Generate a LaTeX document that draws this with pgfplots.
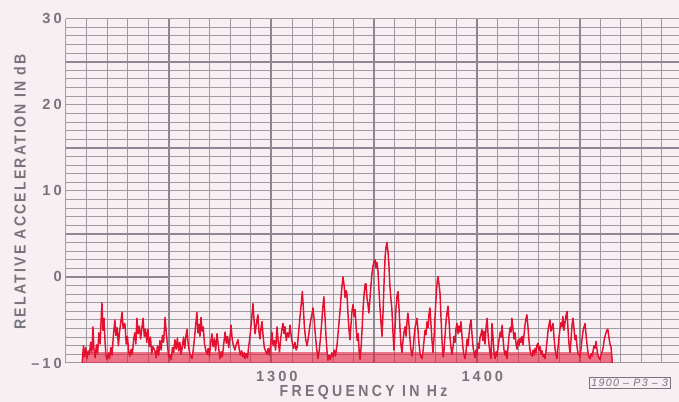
\documentclass[border=0pt]{standalone}
\usepackage{fontspec}
\usepackage{pgfplots}
\usepackage{pgfplotstable}
\pgfplotsset{compat=1.18}
\setmainfont{Liberation Sans}
\newfontfamily\lett[FakeStretch=0.88,LetterSpace=14]{Liberation Sans}
\newfontfamily\lettx[FakeStretch=0.88,LetterSpace=21]{Liberation Sans}
\newfontfamily\digs[LetterSpace=20]{Liberation Sans}
\newfontfamily\stamp[LetterSpace=12]{Liberation Sans}

\definecolor{paper}{RGB}{248,239,243}
\definecolor{gridc}{RGB}{158,154,164}
\definecolor{gridd}{RGB}{140,136,146}
\definecolor{tgray}{RGB}{118,116,124}
\definecolor{trace}{RGB}{228,16,48}

% spectrum trace (Hz, dB)
\pgfplotstableread[row sep=\\]{
f db\\
1208.0 -10.0\\ 1208.0 -9.6\\ 1208.5 -8.0\\ 1209.0 -9.3\\ 1209.6 -8.2\\ 1210.2 -9.5\\ 1210.8 -8.6\\ 1211.4 -9.0\\ 1212.0 -7.6\\ 1212.6 -8.8\\
1213.1 -5.8\\ 1213.6 -8.4\\ 1214.2 -9.4\\ 1214.8 -7.9\\ 1215.4 -8.9\\ 1216.0 -6.5\\ 1216.6 -7.8\\ 1217.0 -5.5\\ 1217.5 -3.0\\ 1218.0 -6.2\\
1218.5 -4.8\\ 1219.0 -7.5\\ 1219.5 -9.2\\ 1220.0 -9.6\\ 1220.6 -8.8\\ 1221.2 -9.5\\ 1221.8 -8.2\\ 1222.4 -9.1\\ 1223.0 -7.0\\ 1223.8 -5.0\\
1224.3 -6.8\\ 1224.9 -5.9\\ 1225.5 -8.0\\ 1226.1 -6.3\\ 1226.7 -5.2\\ 1227.3 -4.1\\ 1227.8 -6.0\\ 1228.3 -5.4\\ 1228.7 -5.5\\ 1229.3 -7.8\\
1229.9 -6.9\\ 1230.5 -8.7\\ 1231.1 -9.2\\ 1231.7 -8.4\\ 1232.3 -9.0\\ 1232.9 -7.3\\ 1233.5 -6.5\\ 1234.0 -7.8\\ 1234.5 -4.8\\ 1235.1 -6.6\\
1235.7 -5.7\\ 1236.3 -7.2\\ 1236.9 -6.0\\ 1237.5 -4.8\\ 1238.1 -6.9\\ 1238.7 -6.1\\ 1239.3 -7.6\\ 1239.9 -6.1\\ 1240.5 -8.1\\ 1241.1 -7.0\\
1241.7 -8.9\\ 1242.3 -8.1\\ 1243.3 -8.6\\ 1243.9 -9.4\\ 1244.5 -8.0\\ 1245.1 -9.1\\ 1245.7 -7.4\\ 1246.3 -8.5\\ 1246.9 -6.8\\ 1247.5 -7.6\\
1248.2 -4.7\\ 1248.8 -6.5\\ 1249.4 -8.0\\ 1250.0 -9.3\\ 1250.6 -9.0\\ 1251.2 -9.6\\ 1251.8 -8.2\\ 1252.4 -8.8\\ 1253.0 -7.3\\ 1253.6 -8.4\\
1254.2 -7.1\\ 1254.8 -8.6\\ 1255.4 -7.6\\ 1256.0 -9.0\\ 1256.6 -8.1\\ 1257.2 -7.0\\ 1257.8 -8.3\\ 1258.4 -6.8\\ 1258.9 -6.1\\ 1259.5 -7.9\\
1260.1 -8.7\\ 1260.7 -9.2\\ 1261.3 -9.5\\ 1261.9 -8.5\\ 1262.5 -7.2\\ 1263.1 -5.6\\ 1263.7 -4.1\\ 1264.2 -6.5\\ 1264.7 -5.5\\ 1265.2 -6.9\\
1265.7 -4.7\\ 1266.2 -6.3\\ 1266.8 -5.8\\ 1267.4 -7.8\\ 1268.0 -8.5\\ 1268.6 -9.0\\ 1269.2 -8.3\\ 1269.8 -9.2\\ 1270.4 -7.7\\ 1271.0 -6.6\\
1271.6 -8.1\\ 1272.2 -7.2\\ 1272.8 -8.6\\ 1273.5 -6.6\\ 1274.1 -7.9\\ 1274.9 -9.5\\ 1275.5 -8.7\\ 1276.1 -9.3\\ 1276.7 -7.9\\ 1277.4 -6.4\\
1278.0 -7.7\\ 1278.6 -6.9\\ 1279.2 -8.2\\ 1279.8 -7.0\\ 1280.3 -5.6\\ 1280.9 -7.3\\ 1281.5 -8.0\\ 1282.2 -8.5\\ 1282.8 -7.9\\ 1283.7 -7.3\\
1284.3 -8.4\\ 1284.9 -9.1\\ 1285.5 -8.6\\ 1286.1 -9.3\\ 1286.7 -8.8\\ 1287.1 -9.5\\ 1287.7 -8.9\\ 1288.3 -9.4\\ 1288.9 -8.1\\ 1289.5 -7.0\\
1290.1 -5.5\\ 1290.6 -4.2\\ 1291.0 -3.1\\ 1291.5 -5.0\\ 1292.0 -6.6\\ 1292.5 -5.7\\ 1293.0 -4.9\\ 1293.4 -4.4\\ 1293.9 -6.3\\ 1294.4 -7.2\\
1294.9 -5.9\\ 1295.4 -5.2\\ 1295.9 -6.8\\ 1296.5 -8.2\\ 1297.1 -8.6\\ 1297.8 -9.0\\ 1298.4 -8.3\\ 1299.0 -9.1\\ 1299.6 -7.8\\ 1300.2 -6.4\\
1300.8 -8.0\\ 1301.4 -7.4\\ 1302.0 -8.5\\ 1302.7 -5.8\\ 1303.3 -7.6\\ 1303.9 -8.7\\ 1304.5 -7.1\\ 1305.0 -6.2\\ 1305.6 -5.4\\ 1306.1 -6.6\\
1306.6 -5.8\\ 1307.2 -7.4\\ 1307.8 -6.5\\ 1308.4 -7.0\\ 1309.0 -5.6\\ 1309.6 -6.9\\ 1310.2 -7.8\\ 1310.8 -8.3\\ 1311.4 -7.6\\ 1312.0 -8.5\\
1312.6 -8.1\\ 1313.2 -6.4\\ 1313.8 -4.8\\ 1314.5 -3.1\\ 1315.0 -1.7\\ 1315.5 -3.6\\ 1316.0 -5.8\\ 1316.6 -7.2\\ 1317.3 -8.0\\ 1317.9 -7.1\\
1318.5 -6.0\\ 1319.1 -5.0\\ 1319.7 -4.3\\ 1320.2 -3.6\\ 1320.8 -5.1\\ 1321.4 -6.9\\ 1322.0 -8.4\\ 1322.6 -9.5\\ 1323.2 -8.6\\ 1323.8 -7.2\\
1324.4 -5.4\\ 1325.0 -3.5\\ 1325.5 -2.3\\ 1326.0 -4.5\\ 1326.5 -6.8\\ 1327.0 -8.6\\ 1327.5 -9.7\\ 1328.1 -9.1\\ 1328.7 -9.6\\ 1329.3 -8.8\\
1329.9 -9.3\\ 1330.5 -8.5\\ 1331.1 -9.2\\ 1331.9 -7.9\\ 1332.6 -6.0\\ 1333.3 -4.1\\ 1334.0 -1.8\\ 1334.8 0.0\\ 1335.3 -0.9\\ 1335.8 -2.4\\
1336.3 -1.6\\ 1336.7 -1.9\\ 1337.2 -4.2\\ 1337.7 -6.1\\ 1338.2 -7.3\\ 1338.7 -5.5\\ 1339.2 -3.9\\ 1339.7 -3.2\\ 1340.2 -4.6\\ 1340.7 -3.8\\
1341.2 -5.9\\ 1341.7 -7.4\\ 1342.2 -6.6\\ 1342.7 -8.8\\ 1343.1 -9.6\\ 1343.6 -8.2\\ 1344.1 -6.0\\ 1344.6 -3.5\\ 1345.1 -1.9\\ 1345.6 -0.8\\
1346.0 -0.8\\ 1346.5 -2.5\\ 1347.0 -3.3\\ 1347.4 -4.2\\ 1347.9 -2.6\\ 1348.4 -1.0\\ 1348.9 0.4\\ 1349.4 1.3\\ 1349.9 1.8\\ 1350.4 2.0\\
1350.9 1.0\\ 1351.3 1.7\\ 1351.8 0.8\\ 1352.3 -1.5\\ 1352.8 -3.6\\ 1353.3 -5.4\\ 1353.8 -6.9\\ 1354.3 -4.0\\ 1354.8 -0.5\\ 1355.3 2.4\\
1355.7 3.4\\ 1356.2 4.0\\ 1356.7 2.9\\ 1357.1 1.6\\ 1357.6 -1.0\\ 1358.1 -2.5\\ 1358.6 -3.8\\ 1359.1 -6.4\\ 1359.6 -8.5\\ 1360.1 -6.0\\
1360.6 -3.6\\ 1361.1 -2.2\\ 1361.6 -1.7\\ 1362.1 -3.9\\ 1362.6 -6.3\\ 1363.0 -7.9\\ 1363.5 -8.8\\ 1364.0 -7.4\\ 1364.5 -6.4\\ 1365.0 -5.8\\
1365.5 -6.9\\ 1366.0 -5.0\\ 1366.4 -4.2\\ 1366.9 -5.6\\ 1367.4 -7.3\\ 1367.9 -8.5\\ 1368.4 -9.2\\ 1368.9 -8.4\\ 1369.4 -7.0\\ 1369.9 -5.8\\
1370.4 -5.3\\ 1370.8 -4.8\\ 1371.3 -6.2\\ 1371.8 -7.8\\ 1372.3 -8.9\\ 1372.8 -9.3\\ 1373.2 -9.5\\ 1373.7 -8.7\\ 1374.2 -7.5\\ 1374.7 -6.2\\
1375.2 -6.7\\ 1375.7 -5.2\\ 1376.2 -5.9\\ 1376.6 -4.4\\ 1377.1 -3.6\\ 1377.6 -5.5\\ 1378.1 -7.4\\ 1378.6 -8.8\\ 1379.1 -7.0\\ 1379.6 -4.5\\
1380.1 -2.4\\ 1380.6 -0.6\\ 1381.0 0.05\\ 1381.5 -0.8\\ 1382.0 -1.9\\ 1382.5 -4.8\\ 1383.0 -7.5\\ 1383.5 -9.3\\ 1384.0 -8.4\\ 1384.5 -6.6\\
1385.0 -5.0\\ 1385.5 -4.0\\ 1385.9 -3.4\\ 1386.4 -5.2\\ 1386.9 -7.1\\ 1387.4 -8.3\\ 1387.8 -9.0\\ 1388.3 -8.2\\ 1388.8 -6.9\\ 1389.3 -7.6\\
1389.8 -6.0\\ 1390.3 -5.4\\ 1390.8 -6.6\\ 1391.3 -5.7\\ 1391.8 -6.4\\ 1392.2 -5.2\\ 1392.7 -6.9\\ 1393.2 -8.3\\ 1393.7 -9.1\\ 1394.2 -9.5\\
1394.7 -8.6\\ 1395.2 -7.2\\ 1395.7 -8.0\\ 1396.2 -6.5\\ 1396.6 -5.6\\ 1397.1 -5.0\\ 1397.6 -6.8\\ 1398.1 -8.2\\ 1398.6 -8.9\\ 1399.0 -9.4\\
1399.5 -8.5\\ 1400.0 -9.1\\ 1400.5 -7.7\\ 1401.0 -8.3\\ 1401.5 -7.0\\ 1402.0 -6.6\\ 1402.4 -6.1\\ 1402.9 -7.4\\ 1403.4 -6.3\\ 1403.9 -7.8\\
1404.4 -5.9\\ 1404.9 -4.8\\ 1405.4 -6.7\\ 1405.9 -8.0\\ 1406.4 -8.9\\ 1406.8 -9.5\\ 1407.3 -5.4\\ 1407.8 -7.1\\ 1408.3 -8.8\\ 1408.8 -9.5\\
1409.3 -8.7\\ 1409.8 -9.2\\ 1410.3 -8.0\\ 1410.8 -7.2\\ 1411.3 -6.4\\ 1411.8 -7.0\\ 1412.2 -5.6\\ 1412.7 -7.3\\ 1413.2 -8.6\\ 1413.7 -9.1\\
1414.1 -8.6\\ 1414.6 -9.5\\ 1415.1 -8.2\\ 1415.6 -6.8\\ 1416.1 -5.9\\ 1416.6 -6.4\\ 1417.0 -4.8\\ 1417.5 -6.0\\ 1418.0 -7.2\\ 1418.5 -6.5\\
1419.0 -7.8\\ 1419.5 -8.4\\ 1420.0 -7.3\\ 1420.5 -8.0\\ 1421.0 -7.1\\ 1421.5 -7.6\\ 1421.9 -6.9\\ 1422.4 -7.9\\ 1422.9 -6.7\\ 1423.4 -5.5\\
1423.8 -4.9\\ 1424.3 -4.4\\ 1424.8 -5.8\\ 1425.3 -7.4\\ 1425.8 -8.5\\ 1426.3 -9.0\\ 1426.8 -9.2\\ 1427.3 -8.5\\ 1427.8 -9.1\\ 1428.3 -8.3\\
1428.8 -8.8\\ 1429.2 -7.9\\ 1429.7 -7.7\\ 1430.2 -8.6\\ 1430.7 -8.1\\ 1431.2 -9.0\\ 1431.7 -8.6\\ 1432.2 -9.3\\ 1432.7 -9.0\\ 1433.1 -9.5\\
1433.6 -8.6\\ 1434.1 -7.4\\ 1434.6 -6.2\\ 1435.1 -5.5\\ 1435.5 -5.0\\ 1436.0 -6.3\\ 1436.5 -5.9\\ 1437.0 -5.4\\ 1437.5 -7.1\\ 1438.0 -8.4\\
1438.5 -9.1\\ 1438.9 -9.5\\ 1439.4 -8.3\\ 1439.9 -7.0\\ 1440.4 -6.0\\ 1440.9 -5.3\\ 1441.4 -5.8\\ 1441.8 -4.6\\ 1442.3 -6.2\\ 1442.8 -5.4\\
1443.3 -4.5\\ 1443.8 -4.0\\ 1444.3 -6.1\\ 1444.8 -7.9\\ 1445.3 -8.8\\ 1445.8 -7.2\\ 1446.2 -5.7\\ 1446.7 -4.8\\ 1447.2 -6.0\\ 1447.7 -7.3\\
1448.2 -6.8\\ 1448.7 -8.2\\ 1449.2 -8.9\\ 1449.6 -9.0\\ 1450.1 -9.3\\ 1450.6 -8.4\\ 1451.1 -7.2\\ 1451.6 -6.3\\ 1452.1 -5.8\\ 1452.6 -5.4\\
1453.1 -6.8\\ 1453.6 -8.0\\ 1454.1 -8.9\\ 1454.5 -9.3\\ 1455.0 -9.5\\ 1455.5 -8.9\\ 1456.0 -9.2\\ 1456.5 -8.6\\ 1456.9 -8.0\\ 1457.4 -8.3\\
1457.9 -7.5\\ 1458.4 -8.4\\ 1458.9 -9.1\\ 1459.4 -9.4\\ 1459.9 -9.6\\ 1460.4 -9.0\\ 1460.9 -8.7\\ 1461.4 -8.2\\ 1461.9 -7.3\\ 1462.4 -6.8\\
1462.9 -6.4\\ 1463.4 -6.1\\ 1463.7 -6.1\\ 1464.2 -7.0\\ 1464.7 -7.8\\ 1465.2 -8.1\\ 1465.7 -9.5\\ 1465.8 -10.0\\
}\spec

\begin{document}
\begin{tikzpicture}
\fill[paper] (0,0) rectangle (509.25pt,301.5pt);
\useasboundingbox (0,0) rectangle (509.25pt,301.5pt);
\begin{axis}[
  at={(49.5pt,29.25pt)}, anchor=south west,
  scale only axis, width=459.75pt, height=258.2pt,
  xmin=1200, xmax=1498.3, ymin=-10, ymax=30,
  axis line style={draw=none},
  xtick={1300,1400}, ytick={-10,0,10,20,30},
  xticklabels={1300,1400},
  yticklabels={\textendash10,0,10,20,30},
  % light lines every 10 Hz and 1 dB; the heavier ones are the extra ticks
  minor xtick={1200,1210,1220,1230,1240,1260,1270,1280,1290,1310,1320,1330,1340,
    1360,1370,1380,1390,1410,1420,1430,1440,1460,1470,1480,1490},
  minor ytick={-10,-9,-8,-7,-6,-5,-4,-3,-2,-1,0,1,2,3,4,6,7,8,9,10,11,12,13,14,
    16,17,18,19,20,21,22,23,24,26,27,28,29,30},
  major tick length=0pt, minor tick length=0pt,
  minor grid style={gridc, line width=0.75pt},
  major grid style={gridc, line width=0.75pt},
  x tick style={draw=none}, y tick style={draw=none},
  xmajorgrids, xminorgrids, ymajorgrids, yminorgrids,
  extra x ticks={1250,1300,1350,1400,1450}, extra x tick labels={},
  extra y ticks={5,15,25}, extra y tick labels={},
  extra x tick style={xmajorgrids, major grid style={gridd, line width=1.5pt}},
  extra y tick style={ymajorgrids, major grid style={gridd, line width=1.5pt}},
  /pgf/number format/assume math mode=true,
  ticklabel style={font=\digs\bfseries\fontsize{11}{12}\selectfont, text=tgray},
  xticklabel style={inner sep=0pt, yshift=-6pt, xshift=4pt},
  yticklabel style={inner sep=0pt, xshift=-3pt},
]
\draw[gridd, line width=1.6pt] (axis cs:1200,0) -- (axis cs:1250,0);
\begin{scope}
\clip (axis cs:1200,-10) rectangle (axis cs:1500,-8.8);
\addplot[draw=none, fill=trace, fill opacity=0.55] table[x=f, y=db] {\spec} -- cycle;
\end{scope}
\addplot[trace, line width=1.1pt, line join=round] table[x=f, y=db] {\spec};
\end{axis}
\node[rotate=90, text=tgray] at (15pt,157.5pt) {\lett\bfseries\fontsize{12}{14}\selectfont RELATIVE ACCELERATION IN dB};
\node[text=tgray] at (272.6pt,7.5pt) {\lettx\bfseries\fontsize{12}{14}\selectfont FREQUENCY IN Hz};
\node[draw=tgray, text=tgray, anchor=west, inner sep=1.5pt, line width=0.6pt] at (441.75pt,14.25pt)
  {\stamp\itshape\fontsize{8}{9}\selectfont 1900 – P3 – 3};
\end{tikzpicture}
\end{document}
